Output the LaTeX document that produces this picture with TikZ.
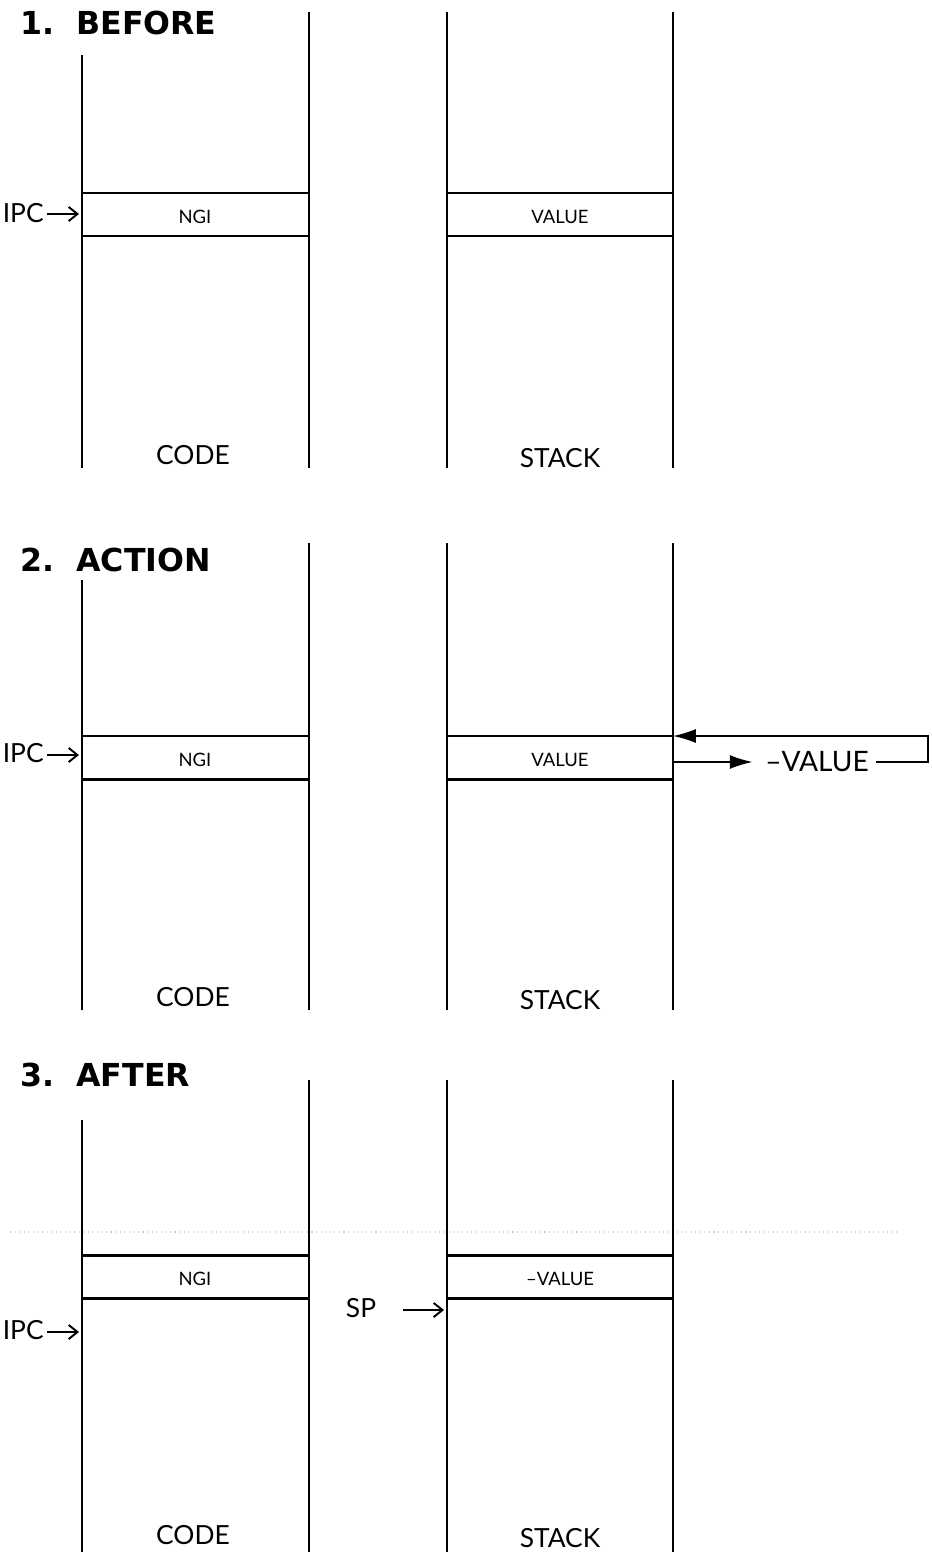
\documentclass[tikz,border=0pt]{standalone}
\usepackage{fontspec}
\setsansfont{Lato}
\newfontfamily\headfont{DejaVu Sans}
\usetikzlibrary{arrows.meta}
\tikzset{
  wall/.style={line width=1pt},
  cellline/.style={line width=1.7pt},
  celltext/.style={font=\sffamily\fontsize{10.5}{12}\selectfont},
  colname/.style={font=\sffamily\fontsize{15}{18}\selectfont},
  ptrname/.style={font=\sffamily\fontsize{15}{18}\selectfont, inner sep=0pt},
  secttitle/.style={font=\headfont\bfseries\fontsize{18}{21}\selectfont, anchor=west, inner sep=0pt},
  ptr/.style={-{Straight Barb[length=5pt,width=8pt]}, line width=1.1pt},
  negarrow/.style={-{Latex[length=13pt,width=8pt]}, line width=1pt},
}

\begin{document}
\begin{tikzpicture}[x=0.02cm, y=-0.02cm]
\useasboundingbox (0,0) rectangle (931,1554);
% 1. before
\node[secttitle] (t1) at (20,23) {1.\ \ BEFORE};
\draw[wall] (82,55) -- (82,468);
\draw[wall] (309,12) -- (309,468);
\draw[cellline] (82,193) -- (309,193);
\draw[cellline] (82,236) -- (309,236);
\node[celltext] (ngi1) at (195,217) {NGI};
\node[colname] (code1) at (193,455) {CODE};
\draw[wall] (447,12) -- (447,468);
\draw[wall] (673,12) -- (673,468);
\draw[cellline] (447,193) -- (673,193);
\draw[cellline] (447,236) -- (673,236);
\node[celltext] (val1) at (560,217) {VALUE};
\node[colname] (stack1) at (560,458) {STACK};
% instruction pointer
\node[ptrname, anchor=east] (ipc1) at (44,213) {IPC};
\coordinate (ipc1t) at (79,214);
\draw[ptr] (ipc1.east |- ipc1t) ++(3,0) -- (ipc1t);
% 2. action
\node[secttitle] (t2) at (20,560) {2.\ \ ACTION};
\draw[wall] (82,580) -- (82,1010);
\draw[wall] (309,543) -- (309,1010);
\draw[cellline] (82,736) -- (309,736);
\draw[cellline] (82,779) -- (309,779);
\node[celltext] (ngi2) at (195,760) {NGI};
\node[colname] (code2) at (193,997) {CODE};
\draw[wall] (447,543) -- (447,1010);
\draw[wall] (673,543) -- (673,1010);
\draw[cellline] (447,736) -- (673,736);
\draw[cellline] (447,779) -- (673,779);
\node[celltext] (val2) at (560,760) {VALUE};
\node[colname] (stack2) at (560,1000) {STACK};
\node[ptrname, anchor=east] (ipc2) at (44,753) {IPC};
\coordinate (ipc2t) at (79,755);
\draw[ptr] (ipc2.east |- ipc2t) ++(3,0) -- (ipc2t);
% negate and write back
\coordinate (outv) at (673,762);
\coordinate (backv) at (673,736);
\node[font=\sffamily\fontsize{16}{19}\selectfont, inner sep=0pt] (negv) at (817,762) {--VALUE};
\draw[negarrow] (outv) -- ([xshift=-7pt]negv.west);
\draw[negarrow] ([xshift=4pt]negv.east) -- (928,762) -- (928,736) -- (backv);
% 3. after
\node[secttitle] (t3) at (20,1075) {3.\ \ AFTER};
\draw[gray!35, dotted, line width=0.6pt] (10,1232) -- (900,1232);
\draw[wall] (82,1120) -- (82,1552);
\draw[wall] (309,1080) -- (309,1552);
\draw[cellline] (82,1255) -- (309,1255);
\draw[cellline] (82,1298) -- (309,1298);
\node[celltext] (ngi3) at (195,1279) {NGI};
\node[colname] (code3) at (193,1535) {CODE};
\draw[wall] (447,1080) -- (447,1552);
\draw[wall] (673,1080) -- (673,1552);
\draw[cellline] (447,1255) -- (673,1255);
\draw[cellline] (447,1298) -- (673,1298);
\node[celltext] (val3) at (560,1279) {--VALUE};
\node[colname] (stack3) at (560,1538) {STACK};
\node[ptrname] (sp3) at (361,1308) {SP};
\coordinate (sp3t) at (444,1310);
\draw[ptr] (403,1310) -- (sp3t);
\node[ptrname, anchor=east] (ipc3) at (44,1330) {IPC};
\coordinate (ipc3t) at (79,1332);
\draw[ptr] (ipc3.east |- ipc3t) ++(3,0) -- (ipc3t);
\end{tikzpicture}
\end{document}
